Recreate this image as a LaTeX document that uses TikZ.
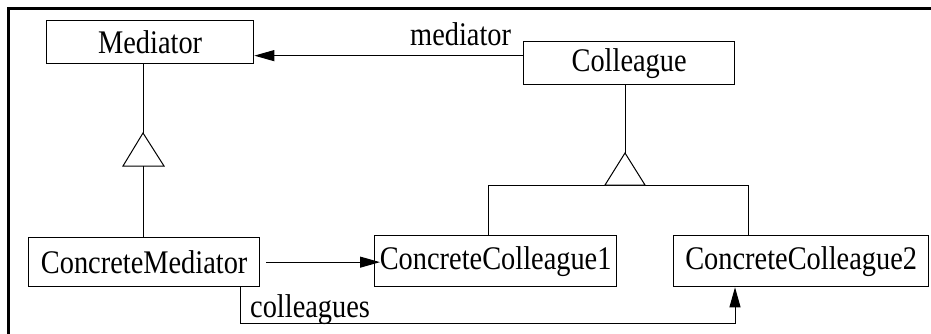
\documentclass[tikz,border=0pt]{standalone}
\usepackage{fontspec}
\setmainfont{Liberation Serif}[FakeStretch=0.86]
\usetikzlibrary{arrows.meta}
\begin{document}
\begin{tikzpicture}[x=1pt,y=-1pt,
  txt/.style={font=\fontsize{33}{35}\selectfont},
  cls/.style={txt, draw, line width=1.3pt, inner sep=0pt, anchor=north west},
  link/.style={line width=1pt},
  nav/.style={link, -{Triangle[length=20pt,width=11pt]}},
  lbl/.style={txt, inner sep=0pt, anchor=base west},
  gen/.style={link, fill=white}]
\useasboundingbox (0,0) rectangle (931,334);
% partial frame along the top and left edges
\draw[line width=3pt] (8.5,334) -- (8.5,8.5) -- (931,8.5);

% classes
\node[cls, minimum width=207pt, minimum height=43pt] (med)  at (46,20)  {Mediator};
\node[cls, minimum width=211pt, minimum height=43pt] (coll) at (523,41) {Colleague};
\node[cls, minimum width=231pt, minimum height=49pt] (cmed) at (28,237) {ConcreteMediator};
\node[cls, minimum width=242pt, minimum height=51pt] (cc1)  at (374,235) {ConcreteColleague1};
\node[cls, minimum width=255pt, minimum height=51pt] (cc2)  at (673,235) {ConcreteColleague2};

% Colleague -> Mediator association
\draw[nav] ([yshift=7.5pt]coll.west) -- ([yshift=7.5pt]coll.west -| med.east);
\node[lbl] (medlbl) at (410,46) {mediator};

% Mediator generalization
\coordinate (mtip)  at (143,133);
\coordinate (mbase) at (143,166);
\draw[link] (mtip |- med.south) -- (mtip);
\draw[gen] (mtip) -- (123,166) -- (164,166) -- cycle;
\draw[link] (mbase) -- (mbase |- cmed.north);

% Colleague generalization
\coordinate (ctip)  at (625,153);
\coordinate (cbase) at (625,185);
\coordinate (bl) at (488,185);
\coordinate (br) at (748,185);
\draw[link] (ctip |- coll.south) -- (ctip);
\draw[link] (bl |- cc1.north) -- (bl) -- (br) -- (br |- cc2.north);
\draw[gen] (ctip) -- (605,185) -- (645,185) -- cycle;

% ConcreteMediator -> ConcreteColleague1
\draw[nav] ([xshift=6pt]cmed.east) -- ([xshift=6pt]cmed.east -| cc1.west);

% ConcreteMediator -> ConcreteColleague2 (colleagues)
\coordinate (cl) at (240,323);
\coordinate (cr) at (735,323);
\draw[nav] (cl |- cmed.south) -- (cl) -- (cr) -- (cr |- cc2.south);
\node[lbl] (colllbl) at (250,317) {colleagues};
\end{tikzpicture}
\end{document}
